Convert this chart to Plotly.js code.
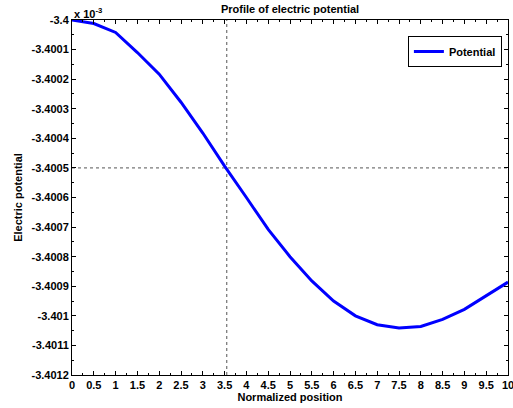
<!DOCTYPE html>
<html>
<head>
<meta charset="utf-8">
<script src="https://cdn.plot.ly/plotly-3.0.1.min.js"></script>
<style>html,body{margin:0;padding:0;background:#fff;}#plot{width:513px;height:408px;}</style>
</head>
<body>
<div id="plot"></div>
<script>
// Data (y shown in units of 1e-3)
const positions = [0, 0.5, 1, 1.5, 2, 2.5, 3, 3.5, 4, 4.5, 5, 5.5, 6, 6.5, 7, 7.5, 8, 8.5, 9, 9.5, 10];
const potential = [-3.400000, -3.400012, -3.400042, -3.400110, -3.400183, -3.400278, -3.400382, -3.400494,
                   -3.400600, -3.400708, -3.400800, -3.400882, -3.400950, -3.401000, -3.401030, -3.401041,
                   -3.401036, -3.401012, -3.400978, -3.400933, -3.400886];
const seriesName = "Potential";
const crossX = 3.55;
const crossY = -3.4005;
const xTicks = [0, 0.5, 1, 1.5, 2, 2.5, 3, 3.5, 4, 4.5, 5, 5.5, 6, 6.5, 7, 7.5, 8, 8.5, 9, 9.5, 10];
const yTicks = [-3.4, -3.4001, -3.4002, -3.4003, -3.4004, -3.4005, -3.4006, -3.4007, -3.4008, -3.4009, -3.401, -3.4011, -3.4012];
const yTickText = ["-3.4", "-3.4001", "-3.4002", "-3.4003", "-3.4004", "-3.4005", "-3.4006", "-3.4007", "-3.4008", "-3.4009", "-3.401", "-3.4011", "-3.4012"];
const xRange = [0, 10];
const yRange = [-3.4012, -3.4];

const traces = [
  {x: [crossX, crossX], y: yRange, mode: 'lines', showlegend: false, hoverinfo: 'skip',
   line: {color: '#555', width: 1, dash: 'dot'}},
  {x: xRange, y: [crossY, crossY], mode: 'lines', showlegend: false, hoverinfo: 'skip',
   line: {color: '#555', width: 1, dash: 'dot'}},
  {x: positions, y: potential, mode: 'lines', name: seriesName,
   line: {color: '#0000ff', width: 3}}
];

const tickFont = {family: 'Liberation Sans, Arial, sans-serif', size: 11, color: '#000', weight: 'bold'};

const layout = {
  width: 513, height: 408,
  margin: {l: 72, r: 5, t: 20, b: 33},
  paper_bgcolor: '#fff', plot_bgcolor: '#fff',
  font: {family: 'Liberation Sans, Arial, sans-serif', color: '#000'},
  title: {text: '<b>Profile of electric potential</b>', font: {size: 11, color: '#000'},
          x: 0.5654, xanchor: 'center', y: 0.978, yanchor: 'middle'},
  xaxis: {
    range: xRange, tickvals: xTicks, ticktext: xTicks.map(String),
    ticks: 'inside', ticklen: 4, tickwidth: 1, tickcolor: '#000',
    minor: {dtick: 0.25, ticks: 'inside', ticklen: 2, tickcolor: '#000', showgrid: false},
    showline: true, linecolor: '#000', linewidth: 1, mirror: 'ticks',
    showgrid: false, zeroline: false, tickfont: tickFont, ticklabelstandoff: 0,
    ticklabeloverflow: 'allow',
    title: {text: '<b>Normalized position</b>', font: {size: 11, color: '#000'}, standoff: 2}
  },
  yaxis: {
    range: yRange, tickvals: yTicks, ticktext: yTickText,
    ticks: 'inside', ticklen: 4, tickwidth: 1, tickcolor: '#000',
    minor: {dtick: 0.00005, ticks: 'inside', ticklen: 2, tickcolor: '#000', showgrid: false},
    showline: true, linecolor: '#000', linewidth: 1, mirror: 'ticks',
    showgrid: false, zeroline: false, tickfont: tickFont,
    title: {text: '<b>Electric potential</b>', font: {size: 11, color: '#000'}, standoff: 6}
  },
  legend: {x: 0.986, y: 0.955, xanchor: 'right', yanchor: 'top',
           bgcolor: '#fff', bordercolor: '#000', borderwidth: 1,
           font: {size: 11, color: '#000', weight: 'bold'}, itemwidth: 30,
           tracegroupgap: 0},
  annotations: [
    {xref: 'paper', yref: 'paper', x: 0, y: 1, xanchor: 'left', yanchor: 'bottom',
     text: '<b>x 10<sup>-3</sup></b>', showarrow: false, font: {size: 11, color: '#000'}, yshift: -2}
  ],
  showlegend: true
};

Plotly.newPlot('plot', traces, layout, {displayModeBar: false, staticPlot: true});
</script>
</body>
</html>
